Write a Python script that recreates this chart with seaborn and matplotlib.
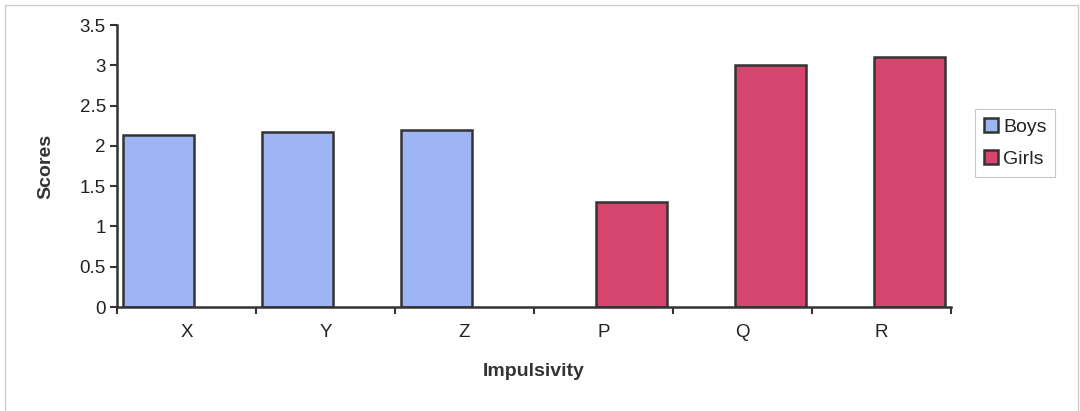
import matplotlib
matplotlib.use("Agg")
import matplotlib.pyplot as plt
import matplotlib.patches as mpatches
import seaborn as sns
import pandas as pd
import numpy as np

categories = ["X", "Y", "Z", "P", "Q", "R"]
groups = ["Boys", "Boys", "Boys", "Girls", "Girls", "Girls"]
scores = [2.14, 2.17, 2.20, 1.30, 3.00, 3.10]
series = ["Boys", "Girls"]
colors = {"Boys": "#9DB5F3", "Girls": "#D5456D"}

df = pd.DataFrame({"Impulsivity": categories, "Group": groups, "Scores": scores})

sns.set_theme(style="white")
plt.rcParams["font.family"] = ["Liberation Sans", "DejaVu Sans"]

fig = plt.figure(figsize=(10.8, 4.11), dpi=100)
ax = fig.add_axes([117/1080, 1 - 307/411, (951 - 117)/1080, (307 - 25)/411])

sns.barplot(data=df, x="Impulsivity", y="Scores", hue="Group", hue_order=series,
            order=categories, palette=colors, saturation=1, dodge=True, width=0.8,
            edgecolor="#333333", linewidth=1.8, errorbar=None, ax=ax, legend=False)

# widen bars (Excel-style overlap) keeping centers
bw = 0.51
for p in ax.patches:
    if p.get_height() > 0:
        c = p.get_x() + p.get_width() / 2
        p.set_width(bw)
        p.set_x(c - bw / 2)

ax.set_xlim(-0.5, len(categories) - 0.5)
ax.set_ylim(0, 3.5)
ax.set_yticks(np.arange(0, 3.51, 0.5))
ax.set_yticklabels(["0", "0.5", "1", "1.5", "2", "2.5", "3", "3.5"])
ax.set_xticks(range(len(categories)))
ax.set_xticks(np.arange(-0.5, len(categories), 1.0), minor=True)

for s in ["top", "right"]:
    ax.spines[s].set_visible(False)
for s in ["left", "bottom"]:
    ax.spines[s].set_color("#333333")
    ax.spines[s].set_linewidth(1.8)

ax.tick_params(axis="y", which="major", direction="out", length=5, width=1.5,
               color="#333333", labelsize=13.5, labelcolor="#222222", pad=3, left=True)
ax.tick_params(axis="x", which="major", length=0, labelsize=13.5, labelcolor="#222222", pad=12)
ax.tick_params(axis="x", which="minor", direction="out", length=5, width=1.5,
               color="#333333", bottom=True)

ax.set_xlabel("Impulsivity", fontsize=14, fontweight="bold", color="#333333", labelpad=16)
ax.set_ylabel("Scores", fontsize=14, fontweight="bold", color="#333333", labelpad=18)

handles = [mpatches.Patch(facecolor=colors[s], edgecolor="#333333", linewidth=1.8, label=s)
           for s in series]
leg = fig.legend(handles=handles, loc="upper left",
                 bbox_to_anchor=(975/1080, 1 - 109/411), frameon=True, fontsize=14,
                 handlelength=0.75, handleheight=0.75, handletextpad=0.25,
                 labelspacing=0.75, borderpad=0.45, borderaxespad=0, fancybox=False)
leg.get_frame().set_edgecolor("#BBBBBB")
leg.get_frame().set_linewidth(0.8)
for t in leg.get_texts():
    t.set_color("#222222")

fig.patches.append(mpatches.Rectangle((5/1080, -0.01), (1078 - 5)/1080, 1 - 5/411 + 0.01,
                                      transform=fig.transFigure, fill=False,
                                      edgecolor="#CCCCCC", linewidth=1.0))

fig.savefig("out.png", dpi=100)
